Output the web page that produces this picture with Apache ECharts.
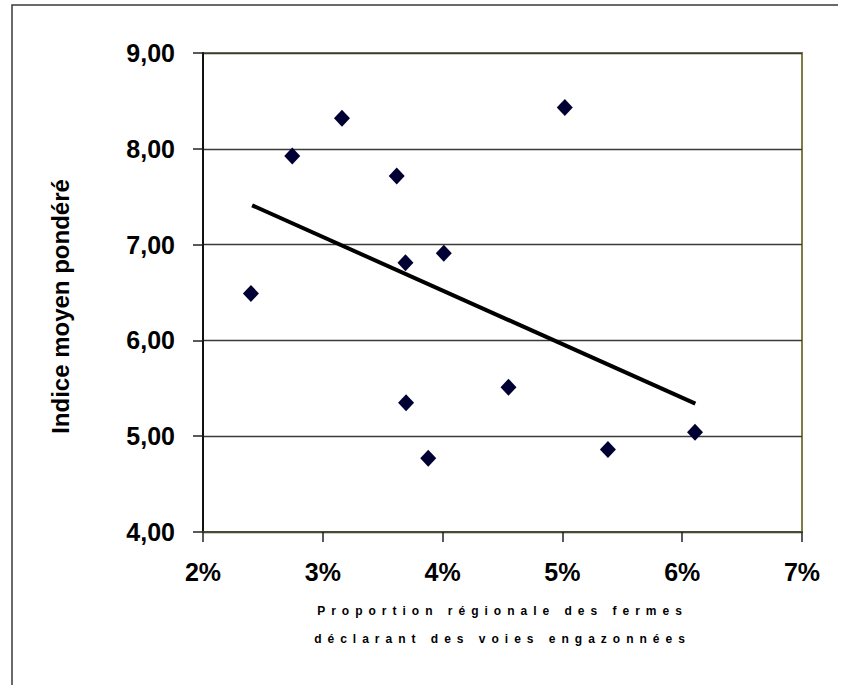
<!DOCTYPE html>
<html>
<head>
<meta charset="utf-8">
<script src="https://cdn.jsdelivr.net/npm/echarts@6/dist/echarts.min.js"></script>
<style>
html,body{margin:0;padding:0;background:#fff;}
#chart{width:845px;height:685px;}
</style>
</head>
<body>
<div id="chart"></div>
<script>
// Data (x in %, y = weighted mean index)
var pointsX = [2.40, 2.745, 3.16, 3.617, 3.69, 4.01, 3.695, 3.88, 4.55, 5.38, 6.107, 5.02];
var pointsY = [6.49, 7.925, 8.32, 7.716, 6.81, 6.91, 5.35, 4.77, 5.51, 4.86, 5.04, 8.43];
var trendX = [2.41, 6.11];
var trendY = [7.41, 5.34];
var xTicks = [2, 3, 4, 5, 6, 7];
var yTicks = [4, 5, 6, 7, 8, 9];
var xTitle = "Proportion régionale des fermes\ndéclarant des voies engazonnées";
var yTitle = "Indice moyen pondéré";

var scatterData = pointsX.map(function (x, i) { return [x, pointsY[i]]; });
var trendData = trendX.map(function (x, i) { return [x, trendY[i]]; });

var chart = echarts.init(document.getElementById('chart'), null, { renderer: 'svg' });
var font = "'Liberation Sans', Arial, sans-serif";
chart.setOption({
  animation: false,
  backgroundColor: '#ffffff',
  graphic: [{
    type: 'polyline',
    shape: { points: [[12, 700], [12, 5], [838, 5]] },
    style: { stroke: '#3a3a3a', lineWidth: 1.5, fill: null },
    silent: true
  }],
  grid: {
    left: 203, top: 53, right: 43, bottom: 153,
    show: true, borderColor: '#7d7d45', borderWidth: 2, backgroundColor: '#ffffff'
  },
  xAxis: {
    type: 'value',
    min: xTicks[0], max: xTicks[xTicks.length - 1], interval: 1,
    axisLine: { show: true, onZero: false, lineStyle: { color: '#4a4a30', width: 2 } },
    axisTick: { show: true, inside: false, length: 10, lineStyle: { color: '#222', width: 1.5 } },
    splitLine: { show: false },
    axisLabel: {
      margin: 27, color: '#000', fontFamily: font, fontSize: 25, fontWeight: 'bold',
      formatter: function (v) { return v + '%'; }
    },
    name: xTitle,
    nameLocation: 'middle',
    nameGap: 65,
    nameTextStyle: { fontFamily: font, fontSize: 12, fontWeight: 'bold', color: '#000', lineHeight: 28 }
  },
  yAxis: {
    type: 'value',
    min: yTicks[0], max: yTicks[yTicks.length - 1], interval: 1,
    axisLine: { show: true, lineStyle: { color: '#111', width: 2 } },
    axisTick: { show: true, inside: false, length: 10, lineStyle: { color: '#222', width: 1.5 } },
    splitLine: { show: true, lineStyle: { color: '#3a3a3a', width: 1.3 } },
    axisLabel: {
      margin: 28, color: '#000', fontFamily: font, fontSize: 25, fontWeight: 'bold',
      formatter: function (v) { return v.toFixed(2).replace('.', ','); }
    },
    name: yTitle,
    nameLocation: 'middle',
    nameGap: 131,
    nameRotate: 90,
    nameTextStyle: { fontFamily: font, fontSize: 24, fontWeight: 'bold', color: '#000', padding: [0, 28, 0, 0] }
  },
  series: [{
    type: 'scatter',
    data: scatterData,
    symbol: 'diamond',
    symbolSize: [16, 17],
    itemStyle: { color: '#000033', opacity: 1 },
    z: 3
  }, {
    type: 'line',
    data: trendData,
    symbol: 'none',
    lineStyle: { color: '#000', width: 4 },
    z: 2
  }]
});

function spaceTitle() {
  var texts = document.querySelectorAll('#chart svg text');
  texts.forEach(function (t) {
    var s = t.textContent;
    if (s.indexOf('Proportion') === 0 || s.indexOf('déclarant') === 0) {
      t.setAttribute('letter-spacing', '6');
    }
  });
}
spaceTitle();
chart.on('finished', spaceTitle);
setTimeout(spaceTitle, 50);
</script>
</body>
</html>
